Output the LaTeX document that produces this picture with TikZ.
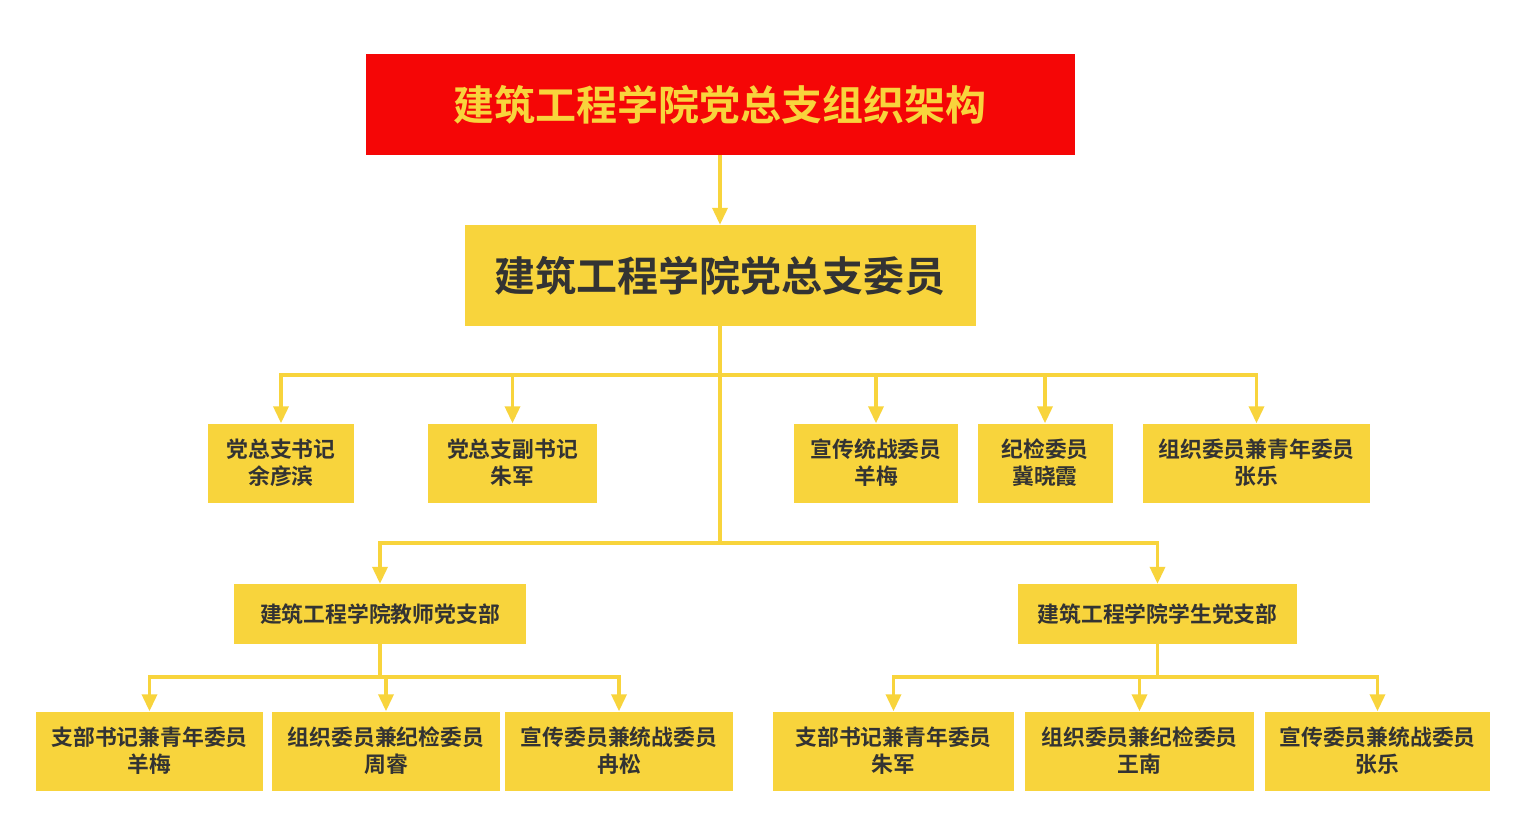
\documentclass[tikz,border=0pt]{standalone}
\usepackage{fontspec}
\newfontfamily\cjk{Noto Sans CJK SC}[BoldFont={Noto Sans CJK SC Bold}]
\usetikzlibrary{arrows.meta}
\definecolor{ylw}{HTML}{F8D43C}
\definecolor{rd}{HTML}{F50606}
\definecolor{txt}{HTML}{333333}
\tikzset{
  box/.style={fill=ylw, draw=none, inner sep=0pt, align=center, text=txt,
    font=\cjk\bfseries\fontsize{21.8}{27}\selectfont},
  bigbox/.style={box, font=\cjk\bfseries\fontsize{41}{48}\selectfont},
  link/.style={draw=ylw, line width=3.5pt},
  arr/.style={link, -{Triangle[width=15pt,length=17pt]}}
}
\begin{document}
\begin{tikzpicture}[x=1pt,y=-1pt]
\useasboundingbox (0,0) rectangle (1516,817);
\fill[white] (0,0) rectangle (1516,817);
% top
\node[bigbox, fill=rd, text=ylw, minimum width=709pt, minimum height=101pt] (title) at (720,104.5) {建筑工程学院党总支组织架构};
\node[bigbox, minimum width=511pt, minimum height=101pt] (comm) at (720,275.5) {建筑工程学院党总支委员};
% level 3
\node[box, minimum width=146pt, minimum height=79pt] (a) at (281,463) {党总支书记\\余彦滨};
\node[box, minimum width=169pt, minimum height=79pt] (b) at (512.5,463) {党总支副书记\\朱军};
\node[box, minimum width=164pt, minimum height=79pt] (c) at (876,463) {宣传统战委员\\羊梅};
\node[box, minimum width=135pt, minimum height=79pt] (d) at (1045,463) {纪检委员\\冀晓霞};
\node[box, minimum width=227pt, minimum height=79pt] (e) at (1256.5,463) {组织委员兼青年委员\\张乐};
% branches
\node[box, minimum width=292pt, minimum height=60pt] (tb) at (380,614) {建筑工程学院教师党支部};
\node[box, minimum width=279pt, minimum height=60pt] (sb) at (1157.5,614) {建筑工程学院学生党支部};
% bottom
\node[box, minimum width=227pt, minimum height=79pt] (t1) at (149.5,751) {支部书记兼青年委员\\羊梅};
\node[box, minimum width=228pt, minimum height=79pt] (t2) at (386,751) {组织委员兼纪检委员\\周睿};
\node[box, minimum width=228pt, minimum height=79pt] (t3) at (619,751) {宣传委员兼统战委员\\冉松};
\node[box, minimum width=241pt, minimum height=79pt] (s1) at (893.5,751) {支部书记兼青年委员\\朱军};
\node[box, minimum width=229pt, minimum height=79pt] (s2) at (1139.5,751) {组织委员兼纪检委员\\王南};
\node[box, minimum width=225pt, minimum height=79pt] (s3) at (1377.5,751) {宣传委员兼统战委员\\张乐};
% junctions
\coordinate (j1) at (720,375);
\coordinate (j2) at (720,543);
\coordinate (jt) at (380,677);
\coordinate (js) at (1157.5,677);
% connectors
\draw[arr] (title.south) -- (comm.north);
\draw[link] (comm.south) -- (j2);
\foreach \n in {a,b,c,d,e} \draw[arr] (j1) -| (\n.north);
\draw[arr] (j2) -| (tb.north);
\draw[arr] (j2) -| (sb.north);
\draw[link] (tb.south) -- (jt);
\draw[link] (sb.south) -- (js);
\foreach \n in {t1,t2,t3} \draw[arr] (jt) -| (\n.north);
\foreach \n in {s1,s2,s3} \draw[arr] (js) -| (\n.north);
\end{tikzpicture}
\end{document}
